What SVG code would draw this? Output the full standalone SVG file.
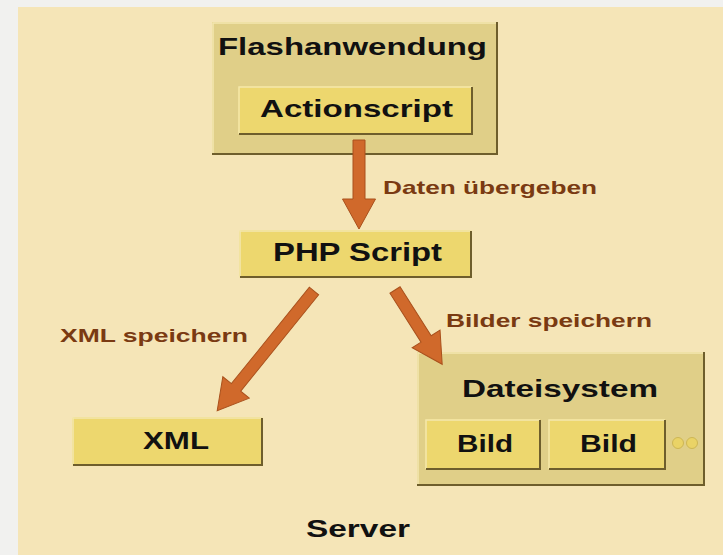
<svg xmlns="http://www.w3.org/2000/svg" width="723" height="555" viewBox="0 0 723 555">
  <style>
    .lbl { font-family: "Liberation Sans", Arial, sans-serif; font-weight: bold; fill: #111; }
    .edge { font-family: "Liberation Sans", Arial, sans-serif; font-weight: bold; fill: #7a3a12; font-size: 19px; }
    .outer { fill: #e0cf88; }
    .inner { fill: #edd76e; }
    .shadow { fill: none; stroke: #6e5e2c; stroke-width: 2; }
    .hilite { fill: none; stroke: #f3e7b0; stroke-width: 1.5; }
    .arrow { fill: #d0692b; stroke: #a9501c; stroke-width: 1; }
    .dot { fill: #ead366; stroke: #cdb654; stroke-width: 1; }
  </style>
  <rect x="0" y="0" width="723" height="555" fill="#f1f1ef"/>
  <rect id="server-panel" x="18" y="7" width="705" height="548" fill="#f5e5b7"/>

  <g id="flashanwendung">
    <rect class="outer" x="212" y="22" width="286" height="133"/>
    <polyline class="hilite" points="213,154 213,23 497,23"/>
    <polyline class="shadow" points="212,154 497,154 497,22"/>
    <text class="lbl" x="218" y="55" font-size="24" textLength="269" lengthAdjust="spacingAndGlyphs">Flashanwendung</text>
  </g>

  <g id="actionscript">
    <rect class="inner" x="238" y="86" width="235" height="49" rx="3"/>
    <polyline class="hilite" points="239,134 239,87 472,87"/>
    <polyline class="shadow" points="239,134 472,134 472,87"/>
    <text class="lbl" x="260" y="117" font-size="24" textLength="193" lengthAdjust="spacingAndGlyphs">Actionscript</text>
  </g>

  <g id="php-script">
    <rect class="inner" x="239" y="230" width="233" height="48" rx="3"/>
    <polyline class="hilite" points="240,277 240,231 471,231"/>
    <polyline class="shadow" points="240,277 471,277 471,231"/>
    <text class="lbl" x="273" y="261" font-size="25" textLength="169" lengthAdjust="spacingAndGlyphs">PHP Script</text>
  </g>

  <g id="xml">
    <rect class="inner" x="72" y="417" width="191" height="49" rx="3"/>
    <polyline class="hilite" points="73,465 73,418 262,418"/>
    <polyline class="shadow" points="73,465 262,465 262,418"/>
    <text class="lbl" x="143" y="449" font-size="24" textLength="66" lengthAdjust="spacingAndGlyphs">XML</text>
  </g>

  <g id="dateisystem">
    <rect class="outer" x="417" y="352" width="288" height="134"/>
    <polyline class="hilite" points="418,485 418,353 704,353"/>
    <polyline class="shadow" points="417,485 704,485 704,352"/>
    <text class="lbl" x="462" y="397" font-size="24" textLength="196" lengthAdjust="spacingAndGlyphs">Dateisystem</text>
  </g>

  <g id="bild-1">
    <rect class="inner" x="425" y="419" width="116" height="51" rx="3"/>
    <polyline class="hilite" points="426,469 426,420 540,420"/>
    <polyline class="shadow" points="426,469 540,469 540,420"/>
    <text class="lbl" x="457" y="452" font-size="24" textLength="56" lengthAdjust="spacingAndGlyphs">Bild</text>
  </g>

  <g id="bild-2">
    <rect class="inner" x="548" y="419" width="118" height="51" rx="3"/>
    <polyline class="hilite" points="549,469 549,420 665,420"/>
    <polyline class="shadow" points="549,469 665,469 665,420"/>
    <text class="lbl" x="580" y="452" font-size="24" textLength="57" lengthAdjust="spacingAndGlyphs">Bild</text>
  </g>

  <g id="more-dots">
    <circle class="dot" cx="678" cy="443" r="5.5"/>
    <circle class="dot" cx="692" cy="443" r="5.5"/>
  </g>

  <g id="server-label">
    <text class="lbl" x="306" y="537" font-size="24" textLength="104" lengthAdjust="spacingAndGlyphs">Server</text>
  </g>

  <g id="connectors">
    <g transform="translate(359,140) rotate(90)">
      <polygon class="arrow" points="0,-6 59,-6 59,-16.5 89,0 59,16.5 59,6 0,6"/>
    </g>
    <text class="edge" x="383" y="194" textLength="214" lengthAdjust="spacingAndGlyphs">Daten übergeben</text>

    <g transform="translate(314,291) rotate(128.95)">
      <polygon class="arrow" points="0,-6 124,-6 124,-17 154,0 124,17 124,6 0,6"/>
    </g>
    <text class="edge" x="60" y="342" textLength="188" lengthAdjust="spacingAndGlyphs">XML speichern</text>

    <g transform="translate(395,290) rotate(57.58)">
      <polygon class="arrow" points="0,-6 58,-6 58,-16.5 88,0 58,16.5 58,6 0,6"/>
    </g>
    <text class="edge" x="446" y="327" textLength="206" lengthAdjust="spacingAndGlyphs">Bilder speichern</text>
  </g>
</svg>
